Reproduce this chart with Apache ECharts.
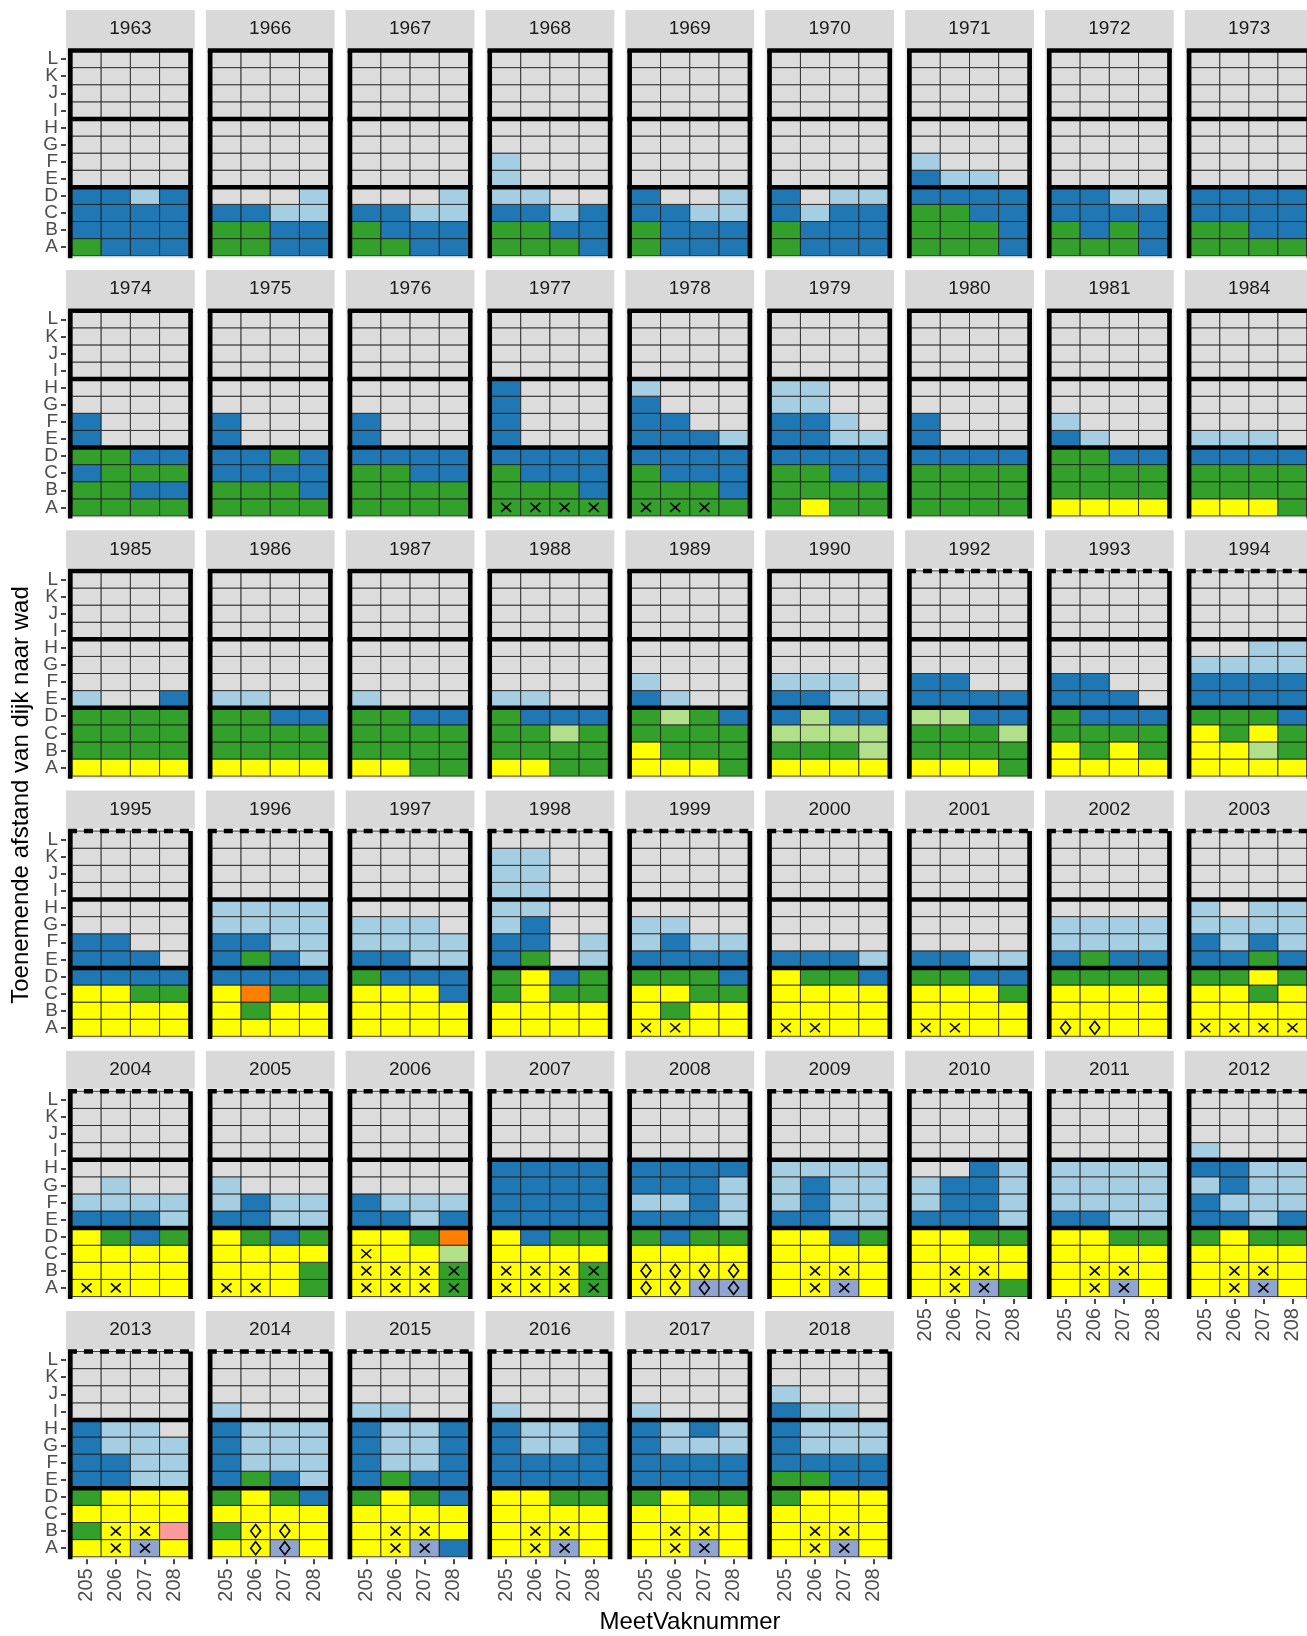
<!DOCTYPE html>
<html><head><meta charset="utf-8">
<script src="https://cdn.jsdelivr.net/npm/echarts@6/dist/echarts.min.js"></script>
<style>html,body{margin:0;padding:0;background:#fff}#c{width:1307px;height:1636px}</style>
</head><body><div id="c"></div><script>
// ---------- DATA ----------
const years = ['1963','1966','1967','1968','1969','1970','1971','1972','1973',
  '1974','1975','1976','1977','1978','1979','1980','1981','1984',
  '1985','1986','1987','1988','1989','1990','1992','1993','1994',
  '1995','1996','1997','1998','1999','2000','2001','2002','2003',
  '2004','2005','2006','2007','2008','2009','2010','2011','2012',
  '2013','2014','2015','2016','2017','2018'];
const vakken = ['205','206','207','208'];
const zones = ['A','B','C','D','E','F','G','H','I','J','K','L'];
// cover class per zone (A..L), one code per vak (205..208)
// . = no data, l = light blue, b = dark blue, G = green, g = light green,
// y = yellow, o = orange, p = pink, v = lavender
const cover = [
'Gbbb bbbb bbbb bblb .... .... .... .... .... .... .... ....',
'GGbb GGbb bbll ...l .... .... .... .... .... .... .... ....',
'GGbb Gbbb bbll ...l .... .... .... .... .... .... .... ....',
'GGGb GGbb bblb ll.. l... l... .... .... .... .... .... ....',
'Gbbb Gbbb bbll b..l .... .... .... .... .... .... .... ....',
'Gbbb Gbbb blbb b.ll .... .... .... .... .... .... .... ....',
'GGGb GGGb GGbb bbbb bll. l... .... .... .... .... .... ....',
'GGGb GbGb bbbb bbll .... .... .... .... .... .... .... ....',
'GGGG GGbb bbbb bbbb .... .... .... .... .... .... .... ....',
'GGGG GGbb bGGG GGbb b... b... .... .... .... .... .... ....',
'GGGG GGGb bbbb bbGb b... b... .... .... .... .... .... ....',
'GGGG GGGG GGbb bbbb b... b... .... .... .... .... .... ....',
'GGGG GGGb Gbbb bbbb b... b... b... b... .... .... .... ....',
'GGGG GGGb Gbbb bbbb bbbl bb.. b... l... .... .... .... ....',
'GyGG GGGG GGbb bbbb bbll bbl. ll.. ll.. .... .... .... ....',
'GGGG GGGG GGGG bbbb b... b... .... .... .... .... .... ....',
'yyyy GGGG GGGG GGbb bl.. l... .... .... .... .... .... ....',
'yyyG GGGG GGGG bbbb lll. .... .... .... .... .... .... ....',
'yyyy GGGG GGGG GGGG l..b .... .... .... .... .... .... ....',
'yyyy GGGG GGGG GGbb ll.. .... .... .... .... .... .... ....',
'yyGG GGGG GGGG GGbb l... .... .... .... .... .... .... ....',
'yyGG GGGG GGgG Gbbb ll.. .... .... .... .... .... .... ....',
'yyyG yGGG GGGG GgGb bl.. l... .... .... .... .... .... ....',
'yyyy GGGg gggg bgbb bbll lll. .... .... .... .... .... ....',
'yyyG GGGG GGGg ggbb bbbb bb.. .... .... .... .... .... ....',
'yyyy yGyG GGGG Gbbb bbb. bb.. .... .... .... .... .... ....',
'yyyy yygG yGyG GGGb bbbb bbbb llll ..ll .... .... .... ....',
'yyyy yyyy yyGG bbbb bbb. bb.. .... .... .... .... .... ....',
'yyyy yGyy yoGG bbbb bGbl bbll llll llll .... .... .... ....',
'yyyy yyyy yyyb Gbbb bbll llll lll. .... .... .... .... ....',
'yyyy yyyy GyGG GybG bG.l bb.l lb.. ll.. ll.. ll.. ll.. ....',
'yyyy yGyy yyGG GGGb bbbb lbll ll.. .... .... .... .... ....',
'yyyy yyyy yyyy yGGb bbbl .... .... .... .... .... .... ....',
'yyyy yyyy yyyG GGbb bbll .... .... .... .... .... .... ....',
'yyyy yyyy yyyy GGGG bGbb llll llll .... .... .... .... ....',
'yyyy yyyy yyGy GGyG bbGb blbl llll l.ll .... .... .... ....',
'yyyy yyyy yyyy yGbG bbbl llll .l.. .... .... .... .... ....',
'yyyG yyyG yyyy yGbG bbll lbll l... .... .... .... .... ....',
'yyyG yyyG yyyg yyGo bblb blll .... .... .... .... .... ....',
'yyyG yyyG yyyy ybGG bbbb bbbb bbbb bbbb .... .... .... ....',
'yyvv yyyy yyyy GbGG bbbl llbl bbbl bbbb .... .... .... ....',
'yyvy yyyy yyyy yybG bbll lbll lbll llll .... .... .... ....',
'yyvG yyyy yyyy yyGG bbbl lbbl lbbl ..bl .... .... .... ....',
'yyvy yyyy yyyy yyGG bbll llll llll llll .... .... .... ....',
'yyvy yyyy yyyy GyGG bblb blll lbll bbll l... .... .... ....',
'yyvy Gyyp yyyy Gyyy bbll bbll blll bll. .... .... .... ....',
'yyvy Gyyy yyyy GyGb bGbl blll blll blll l... .... .... ....',
'yyvb yyyy yyyy GyGb bGbb bllb bllb bllb ll.. .... .... ....',
'yyvy yyyy yyyy yyGG bbbb bbbb bllb bllb l... .... .... ....',
'yyvy yyyy yyyy GyGG bbbb bbbb blll blbl l... .... .... ....',
'yyvy yyyy yyyy Gyyy GGbb bbbb blll blll bll. l... .... ....'
];
// symbols in zones A, B, C: x = cross, d = diamond
const marks = [
'.... .... ....','.... .... ....','.... .... ....','.... .... ....','.... .... ....','.... .... ....','.... .... ....','.... .... ....','.... .... ....',
'.... .... ....','.... .... ....','.... .... ....','xxxx .... ....','xxx. .... ....','.... .... ....','.... .... ....','.... .... ....','.... .... ....',
'.... .... ....','.... .... ....','.... .... ....','.... .... ....','.... .... ....','.... .... ....','.... .... ....','.... .... ....','.... .... ....',
'.... .... ....','.... .... ....','.... .... ....','.... .... ....','xx.. .... ....','xx.. .... ....','xx.. .... ....','dd.. .... ....','xxxx .... ....',
'xx.. .... ....','xx.. .... ....','xxxx xxxx x...','xxxx xxxx ....','dddd dddd ....','.xx. .xx. ....','.xx. .xx. ....','.xx. .xx. ....','.xx. .xx. ....',
'.xx. .xx. ....','.dd. .dd. ....','.xx. .xx. ....','.xx. .xx. ....','.xx. .xx. ....','.xx. .xx. ....'
];
const dashedTopFrom = 1992;
// ---------- STYLE ----------
const palette = {'.':'#dcdcdc', l:'#a6cee3', b:'#1f78b4', G:'#33a02c', g:'#b2df8a',
  y:'#ffff00', o:'#ff7f00', p:'#fb9a99', v:'#8fa4d0'};
const FONT = '"Liberation Sans", Arial, sans-serif';
const NCOL = 9, PX = 139.85, PY = 260.2;
const L0 = 72, T0 = 50.5, TW = 116.8, TH = 205.2, EX = 6, EY = 2.6;
const LW = 4.5;

const option = {animation:false, backgroundColor:'#ffffff', grid:[], xAxis:[], yAxis:[], series:[], graphic:[]};

years.forEach((yr, i) => {
  const col = i % NCOL, row = Math.floor(i / NCOL);
  const left = L0 + col * PX, top = T0 + row * PY;
  const isBottom = (i + NCOL >= years.length);
  const isLeft = col === 0;
  option.grid.push({left: left, top: top, width: TW, height: TH});
  option.xAxis.push({type:'category', gridIndex:i, data:vakken, offset:EY,
    axisLine:{show:false}, splitLine:{show:false},
    axisTick:{show:isBottom, alignWithLabel:true, interval:0, length:5, lineStyle:{color:'#333', width:1.8}},
    axisLabel:{show:isBottom, interval:0, rotate:90, fontSize:20, color:'#4d4d4d', fontFamily:FONT, margin:9}});
  option.yAxis.push({type:'category', gridIndex:i, data:zones, offset:EX,
    axisLine:{show:false}, splitLine:{show:false},
    axisTick:{show:isLeft, alignWithLabel:true, interval:0, length:5, lineStyle:{color:'#333', width:1.8}},
    axisLabel:{show:isLeft, interval:0, fontSize:19, color:'#4d4d4d', fontFamily:FONT, margin:8}});
  // panel background + strip
  option.graphic.push({type:'rect', z:0, silent:true,
    shape:{x:left-EX, y:top-EY, width:TW+2*EX, height:TH+2*EY}, style:{fill:'#ebebeb'}});
  option.graphic.push({type:'rect', z:0, silent:true,
    shape:{x:left-EX, y:top-EY-38, width:TW+2*EX, height:38}, style:{fill:'#d9d9d9'}});
  option.graphic.push({type:'text', z:1, silent:true, x:left+TW/2, y:top-EY-19,
    style:{text:yr, fontSize:19, fontFamily:FONT, fill:'#1a1a1a', align:'center', verticalAlign:'middle'}});

  const rowsC = cover[i].split(' ');
  const rowsM = marks[i].split(' ');
  const cells = [], info = [];
  rowsC.forEach((r, yi) => {
    for (let xi = 0; xi < 4; xi++) {
      cells.push([xi, yi]);
      info.push({c: r[xi], m: (rowsM[yi] ? rowsM[yi][xi] : '.')});
    }
  });
  option.series.push({type:'custom', coordinateSystem:'cartesian2d', xAxisIndex:i, yAxisIndex:i, z:2,
    data: cells, silent:true,
    renderItem: (p, api) => {
      const c = api.coord([api.value(0), api.value(1)]);
      const s = api.size([1, 1]);
      const d = info[p.dataIndex];
      const ch = [{type:'rect', shape:{x:c[0]-s[0]/2, y:c[1]-s[1]/2, width:s[0], height:s[1]},
        style:{fill: palette[d.c], stroke:'#1a1a1a', lineWidth:0.8}}];
      if (d.m === 'x') {
        ch.push({type:'line', shape:{x1:c[0]-5, y1:c[1]-4.5, x2:c[0]+5, y2:c[1]+4.5}, style:{stroke:'#000', lineWidth:1.6}});
        ch.push({type:'line', shape:{x1:c[0]-5, y1:c[1]+4.5, x2:c[0]+5, y2:c[1]-4.5}, style:{stroke:'#000', lineWidth:1.6}});
      } else if (d.m === 'd') {
        ch.push({type:'polygon', shape:{points:[[c[0], c[1]-6.5],[c[0]+5, c[1]],[c[0], c[1]+6.5],[c[0]-5, c[1]]]},
          style:{fill:'none', stroke:'#000', lineWidth:1.6}});
      }
      return {type:'group', children:ch};
    }});
  const dashed = parseInt(yr, 10) >= dashedTopFrom;
  option.series.push({type:'custom', coordinateSystem:'cartesian2d', xAxisIndex:i, yAxisIndex:i, z:5,
    clip:false, silent:true, data:[[0, 0]],
    renderItem: (p, api) => {
      const s = api.size([1, 1]);
      const x0 = api.coord([0, 0])[0] - s[0]/2 - 1.8, x1 = api.coord([3, 0])[0] + s[0]/2 + 1.8;
      const yb = api.coord([0, 0])[1] + s[1]/2 + EY;
      const yt = api.coord([0, 11])[1] - s[1]/2;
      const yDE = api.coord([0, 3])[1] - s[1]/2;
      const yHI = api.coord([0, 7])[1] - s[1]/2;
      const st = {stroke:'#000', lineWidth:LW};
      const hx0 = x0 - LW/2, hx1 = x1 + LW/2;
      return {type:'group', children:[
        {type:'line', shape:{x1:x0, y1:yt, x2:x0, y2:yb}, style:st},
        {type:'line', shape:{x1:x1, y1:yt, x2:x1, y2:yb}, style:st},
        {type:'line', shape:{x1:hx0, y1:yDE, x2:hx1, y2:yDE}, style:st},
        {type:'line', shape:{x1:hx0, y1:yHI, x2:hx1, y2:yHI}, style:st},
        {type:'line', shape:{x1:hx0, y1:yt, x2:hx1, y2:yt},
          style:{stroke:'#000', lineWidth:LW, lineDash: dashed ? [9, 7] : null}}
      ]};
    }});
});

// axis titles
option.graphic.push({type:'text', z:1, silent:true, x:690, y:1622,
  style:{text:'MeetVaknummer', fontSize:24, fontFamily:FONT, fill:'#000', align:'center', verticalAlign:'middle'}});
option.graphic.push({type:'text', z:1, silent:true, x:21, y:795, rotation:Math.PI/2,
  style:{text:'Toenemende afstand van dijk naar wad', fontSize:24, fontFamily:FONT, fill:'#000', align:'center', verticalAlign:'middle'}});

const chart = echarts.init(document.getElementById('c'), null, {renderer:'canvas'});
chart.setOption(option);
</script></body></html>
